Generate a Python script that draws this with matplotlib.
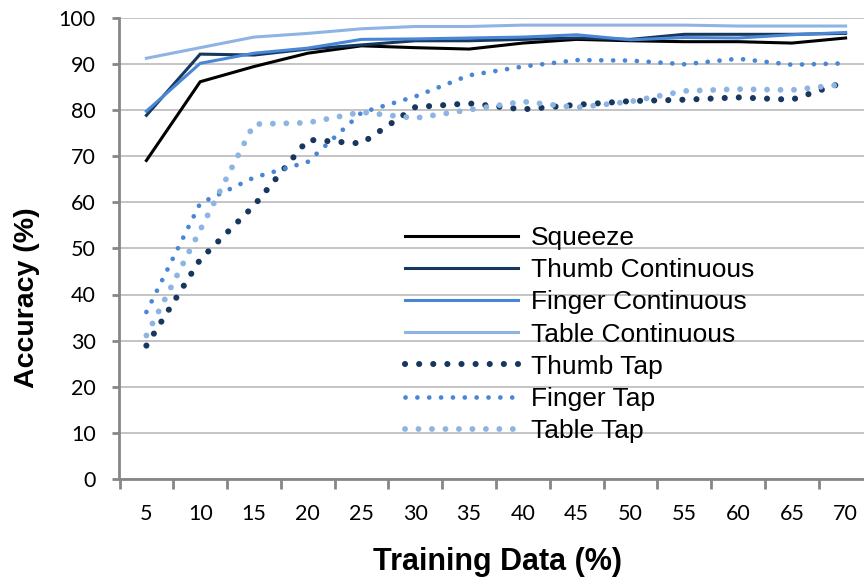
import matplotlib
matplotlib.use("Agg")
import matplotlib.pyplot as plt
import numpy as np

# Training data share (%) used for each run
training_pct = [5, 10, 15, 20, 25, 30, 35, 40, 45, 50, 55, 60, 65, 70]

# Classification accuracy (%) per condition
squeeze = [69.1, 86.2, 89.5, 92.4, 94.0, 93.6, 93.3, 94.6, 95.4, 95.1, 94.9, 94.9, 94.6, 95.7]
thumb_continuous = [78.9, 92.2, 92.0, 93.3, 94.2, 95.1, 95.1, 95.4, 95.7, 95.4, 96.5, 96.5, 96.5, 96.7]
finger_continuous = [79.8, 90.2, 92.4, 93.5, 95.4, 95.5, 95.7, 95.9, 96.4, 95.3, 95.8, 95.7, 96.4, 96.9]
table_continuous = [91.3, 93.6, 95.9, 96.7, 97.7, 98.2, 98.2, 98.5, 98.5, 98.5, 98.5, 98.3, 98.3, 98.3]
thumb_tap = [28.9, 47.6, 59.3, 73.6, 72.8, 80.7, 81.5, 80.2, 81.2, 82.0, 82.3, 82.8, 82.3, 86.2]
finger_tap = [36.2, 59.8, 65.4, 68.8, 79.5, 83.0, 87.6, 89.5, 90.9, 90.8, 90.0, 91.2, 89.9, 90.2]
table_tap = [31.1, 54.0, 77.0, 77.3, 79.6, 78.3, 80.1, 81.9, 80.6, 81.9, 84.2, 84.6, 84.4, 85.7]

y_ticks = list(range(0, 101, 10))

NAVY = "#17375e"
MID = "#4a86d6"
LIGHT = "#8db4e2"

W, H, DPI = 864, 581, 100
fig = plt.figure(figsize=(W / DPI, H / DPI), dpi=DPI)
# axes frame in pixel units: x from 119.5 to 872.5 (runs off the right edge), y from 478.7 to 18.2
left, right, bottom, top = 119.5, 872.5, 478.7, 18.2
ax = fig.add_axes([left / W, (H - bottom) / H, (right - left) / W, (bottom - top) / H])

x = np.arange(len(training_pct))

solid = [
    ("Squeeze", squeeze, "black"),
    ("Thumb Continuous", thumb_continuous, NAVY),
    ("Finger Continuous", finger_continuous, MID),
    ("Table Continuous", table_continuous, LIGHT),
]
for name, vals, col in solid:
    ax.plot(x, vals, color=col, lw=2.2, solid_joinstyle="miter", label=name, zorder=3)

dotted = [
    ("Thumb Tap", thumb_tap, NAVY, 4.4, 2.3),
    ("Finger Tap", finger_tap, MID, 3.4, 2.5),
    ("Table Tap", table_tap, LIGHT, 4.2, 2.3),
]
for name, vals, col, lw, gap in dotted:
    ax.plot(x, vals, color=col, lw=lw, linestyle=(0, (0.01, gap)),
            dash_capstyle="round", label=name, zorder=3)

ax.set_xlim(-0.5, len(training_pct) - 0.5)
ax.set_ylim(0, 100)

# category labels at centres, tick marks between categories
ax.set_xticks(x)
ax.set_xticklabels([str(v) for v in training_pct])
ax.set_xticks(np.arange(-0.5, len(training_pct) - 0.5, 1.0), minor=True)
ax.tick_params(axis="x", which="major", length=0, pad=18)
ax.tick_params(axis="x", which="minor", length=7, width=2, color="#868686", direction="out")

ax.set_yticks(y_ticks)
ax.tick_params(axis="y", which="major", length=5, width=2, color="#868686",
               direction="out", pad=12)

for lab in ax.get_xticklabels() + ax.get_yticklabels():
    lab.set_fontfamily("Lato")
    lab.set_fontsize(15.5)
    lab.set_color("black")

ax.grid(axis="y", color="#c4c4c4", lw=1.4, zorder=0)
ax.set_axisbelow(True)
for s in ("top", "right"):
    ax.spines[s].set_visible(False)
for s in ("left", "bottom"):
    ax.spines[s].set_color("#868686")
    ax.spines[s].set_linewidth(2)

fig.text(497.5 / W, 1 - 562 / H, "Training Data (%)", ha="center", va="center",
         fontsize=22, fontweight="bold", family="Liberation Sans")
fig.text(27 / W, 1 - 298 / H, "Accuracy (%)", ha="center", va="center", rotation=90,
         fontsize=20.5, fontweight="bold", family="Liberation Sans")

leg = fig.legend(loc="upper left", bbox_to_anchor=(405 / W, 1 - 226 / H),
                 frameon=False, borderpad=0, borderaxespad=0,
                 handlelength=4.3, handletextpad=0.48, labelspacing=0.31,
                 prop={"family": "Liberation Sans", "size": 19})

fig.savefig("out.png", dpi=DPI)
